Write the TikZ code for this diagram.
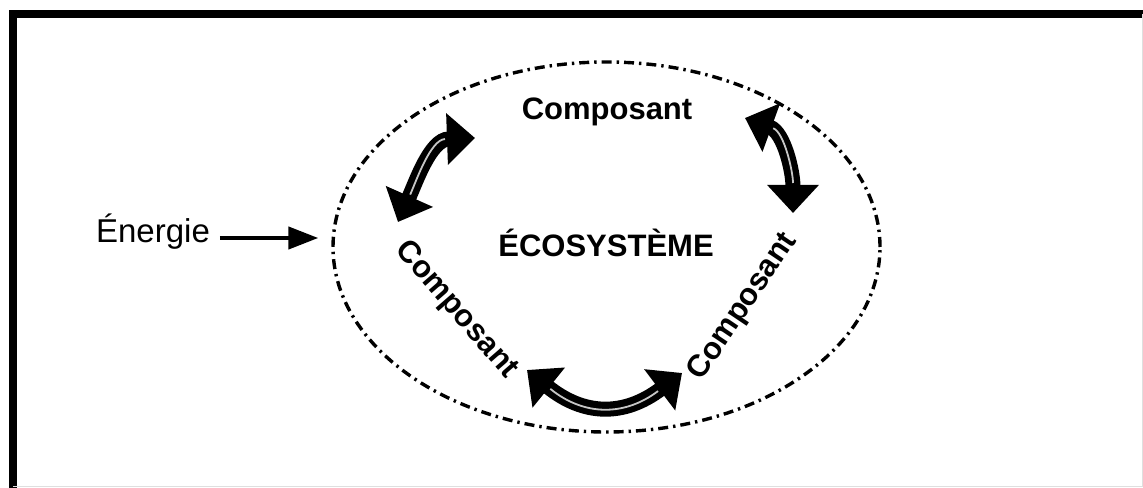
\documentclass[tikz,border=0pt]{standalone}
\usepackage{fontspec}
\setmainfont{Liberation Sans}
\usetikzlibrary{arrows.meta,shapes.geometric,calc}
\begin{document}
\begin{tikzpicture}[x=0.5pt,y=0.5pt,
  lbl/.style={font=\bfseries\fontsize{15.5}{18}\selectfont, inner sep=0pt},
  bigarrow/.style={line width=7.5pt, {Triangle[width=25pt,length=14pt]}-{Triangle[width=25pt,length=14pt]}},
  stripe/.style={gray!45, line width=0.9pt, shorten <=15pt, shorten >=15pt},
  ecoshape/.style={ellipse, draw, line width=1.7pt, dash pattern=on 5pt off 2.5pt on 1.2pt off 2.5pt, minimum width=273.5pt, minimum height=185pt, inner sep=0pt},
  earrow/.style={line width=2.2pt, -{Triangle[width=11pt,length=15pt]}},
  framestyle/.style={line width=4pt, line join=miter}]
\fill[white] (0,0) rectangle (1143,487);
\useasboundingbox (0,0) rectangle (1143,487);
% frame
\draw[framestyle] (12.5,-5) -- (12.5,473) -- (1150,473);
\draw[gray!25, line width=0.5pt] (1142,473) -- (1142,0.5) -- (12.5,0.5);
% ellipse
\node[ecoshape] (ecoell) at (606.5,240) {};
% labels
\node[lbl, anchor=base] (ctop) at (607,367) {Composant};
\node[lbl, anchor=base] (ecosys) at (606,230) {ÉCOSYSTÈME};
\node[lbl, rotate=-49] (cleft) at (456,177) {Composant};
\node[lbl, rotate=56] (cright) at (743,180) {Composant};
\node[font=\fontsize{16.5}{20}\selectfont, inner sep=0pt, anchor=base] (energie) at (153,244) {Énergie};
% energy arrow
\draw[earrow] ([shift={(4.75pt,2.5pt)}]energie.base east) -- ($(energie.base east -| ecoell.west)+(-6.5pt,2.5pt)$);
% double arrows
\coordinate (a1) at (398,265); \coordinate (a2) at (475,349);
\coordinate (b1) at (745,369); \coordinate (b2) at (793,274);
\coordinate (c1) at (527,117); \coordinate (c2) at (682,114);
\draw[bigarrow] (a1) to[out=66,in=182] (a2);
\draw[stripe] (a1) to[out=66,in=182] (a2);
\draw[bigarrow] (b1) to[out=340,in=90] (b2);
\draw[stripe] (b1) to[out=340,in=90] (b2);
\draw[bigarrow] (c1) to[out=321,in=217,looseness=1.2] (c2);
\draw[stripe] (c1) to[out=321,in=217,looseness=1.2] (c2);
\end{tikzpicture}
\end{document}
